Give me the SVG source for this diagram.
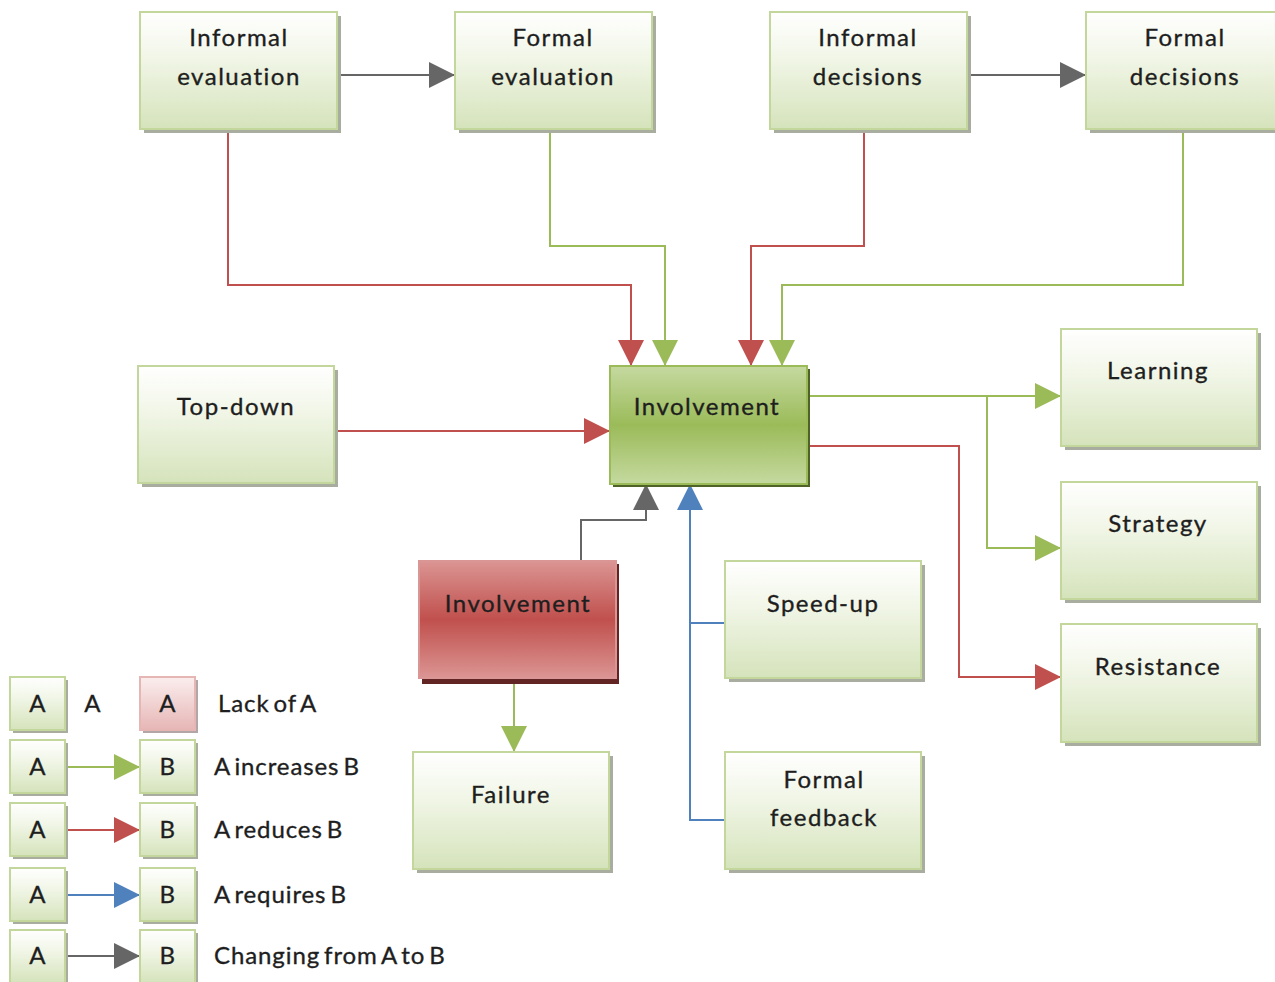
<svg xmlns="http://www.w3.org/2000/svg" width="1275" height="982" viewBox="0 0 1275 982">
  <defs>
    <linearGradient id="gNode" x1="0" y1="0" x2="0" y2="1">
      <stop offset="0" stop-color="#ffffff"/>
      <stop offset="0.35" stop-color="#f3f7ea"/>
      <stop offset="1" stop-color="#d5e3bb"/>
    </linearGradient>
    <linearGradient id="gGreen" x1="0" y1="0" x2="0" y2="1">
      <stop offset="0" stop-color="#c5d9a0"/>
      <stop offset="0.5" stop-color="#9bbb59"/>
      <stop offset="1" stop-color="#c5d9a0"/>
    </linearGradient>
    <linearGradient id="gRed" x1="0" y1="0" x2="0" y2="1">
      <stop offset="0" stop-color="#db9593"/>
      <stop offset="0.5" stop-color="#c0504d"/>
      <stop offset="1" stop-color="#db9593"/>
    </linearGradient>
    <linearGradient id="gPink" x1="0" y1="0" x2="0" y2="1">
      <stop offset="0" stop-color="#fbeeee"/>
      <stop offset="1" stop-color="#e6b6b5"/>
    </linearGradient>
    <marker id="mGreen" markerUnits="userSpaceOnUse" markerWidth="26" markerHeight="26" refX="24" refY="12" orient="auto" viewBox="0 0 24 24">
      <path d="M0,0 L24,12 L0,24 Z" fill="#9bbb59"/>
    </marker>
    <marker id="mRed" markerUnits="userSpaceOnUse" markerWidth="26" markerHeight="26" refX="24" refY="12" orient="auto" viewBox="0 0 24 24">
      <path d="M0,0 L24,12 L0,24 Z" fill="#c0504d"/>
    </marker>
    <marker id="mBlue" markerUnits="userSpaceOnUse" markerWidth="26" markerHeight="26" refX="24" refY="12" orient="auto" viewBox="0 0 24 24">
      <path d="M0,0 L24,12 L0,24 Z" fill="#4f81bd"/>
    </marker>
    <marker id="mGray" markerUnits="userSpaceOnUse" markerWidth="26" markerHeight="26" refX="24" refY="12" orient="auto" viewBox="0 0 24 24">
      <path d="M0,0 L24,12 L0,24 Z" fill="#666666"/>
    </marker>
  </defs>
  <style>
    .sh { fill: #a8ad9f; }
    .box { fill: url(#gNode); stroke: #c3d69b; stroke-width: 2; }
    .boxG { fill: url(#gGreen); stroke: #9bbb59; stroke-width: 2; }
    .shG { fill: #4f6228; }
    .boxR { fill: url(#gRed); stroke: #d99694; stroke-width: 2; }
    .shR { fill: #632523; }
    .boxP { fill: url(#gPink); stroke: #e6b6b5; stroke-width: 2; }
    .shP { fill: #b3a6a6; }
    text { font-family: Lato, "Open Sans", sans-serif; font-size: 24px; fill: #1e1e1e; stroke: #1e1e1e; stroke-width: 0.35; text-anchor: middle; letter-spacing: 1.5px; }
    .lg { text-anchor: start; letter-spacing: 0.9px; word-spacing: -3px; }
    .c { fill: none; stroke-width: 2; }
    .cg { stroke: #9bbb59; marker-end: url(#mGreen); }
    .cr { stroke: #c0504d; marker-end: url(#mRed); }
    .cb { stroke: #4f81bd; }
    .cy { stroke: #666666; marker-end: url(#mGray); }
  </style>

  <rect width="1275" height="982" fill="#ffffff"/>

  <!-- connectors -->
  <g id="connectors">
    <path class="c cy" d="M337,75 H455"/>
    <path class="c cy" d="M967,75 H1086"/>
    <path class="c cr" d="M228,129 V285 H631 V366"/>
    <path class="c cg" d="M550,129 V246 H665 V366"/>
    <path class="c cr" d="M864,129 V246 H751 V366"/>
    <path class="c cg" d="M1183,129 V285 H782 V366"/>
    <path class="c cr" d="M335,431 H610"/>
    <path class="c cg" d="M807,396 H1061"/>
    <path class="c cg" d="M987,396 V548 H1061"/>
    <path class="c cr" d="M807,446 H959 V677 H1061"/>
    <path class="c cy" d="M581,561 V520 H646 V484"/>
    <path class="c cg" d="M514,678 V752"/>
    <path class="c cb" d="M725,623 H690"/>
    <path class="c cb" d="M725,820 H690 V484" style="marker-end: url(#mBlue)"/>
    <!-- legend arrows -->
    <path class="c cg" d="M66,767 H140"/>
    <path class="c cr" d="M66,830 H140"/>
    <path class="c cb" d="M66,895 H140" style="marker-end: url(#mBlue)"/>
    <path class="c cy" d="M66,956 H140"/>
  </g>

  <!-- nodes -->
  <g id="informal-evaluation">
    <rect class="sh" x="144" y="16" width="197" height="117"/>
    <rect class="box" x="140" y="12" width="197" height="117"/>
    <text x="239" y="46">Informal</text>
    <text x="239" y="85">evaluation</text>
  </g>
  <g id="formal-evaluation">
    <rect class="sh" x="459" y="16" width="197" height="117"/>
    <rect class="box" x="455" y="12" width="197" height="117"/>
    <text x="553" y="46">Formal</text>
    <text x="553" y="85">evaluation</text>
  </g>
  <g id="informal-decisions">
    <rect class="sh" x="774" y="16" width="197" height="117"/>
    <rect class="box" x="770" y="12" width="197" height="117"/>
    <text x="868" y="46">Informal</text>
    <text x="868" y="85">decisions</text>
  </g>
  <g id="formal-decisions">
    <rect class="sh" x="1090" y="16" width="197" height="117"/>
    <rect class="box" x="1086" y="12" width="197" height="117"/>
    <text x="1185" y="46">Formal</text>
    <text x="1185" y="85">decisions</text>
  </g>
  <g id="top-down">
    <rect class="sh" x="142" y="370" width="196" height="117"/>
    <rect class="box" x="138" y="366" width="196" height="117"/>
    <text x="236" y="415">Top-down</text>
  </g>
  <g id="involvement">
    <rect class="shG" x="613" y="369" width="197" height="118"/>
    <rect class="boxG" x="610" y="366" width="197" height="118"/>
    <text x="707" y="415">Involvement</text>
  </g>
  <g id="learning">
    <rect class="sh" x="1065" y="333" width="196" height="117"/>
    <rect class="box" x="1061" y="329" width="196" height="117"/>
    <text x="1158" y="379">Learning</text>
  </g>
  <g id="strategy">
    <rect class="sh" x="1065" y="486" width="196" height="117"/>
    <rect class="box" x="1061" y="482" width="196" height="117"/>
    <text x="1158" y="532">Strategy</text>
  </g>
  <g id="resistance">
    <rect class="sh" x="1065" y="628" width="196" height="118"/>
    <rect class="box" x="1061" y="624" width="196" height="118"/>
    <text x="1158" y="675">Resistance</text>
  </g>
  <g id="lack-of-involvement">
    <rect class="shR" x="422" y="564" width="197" height="120"/>
    <rect class="boxR" x="419" y="561" width="197" height="117"/>
    <text x="518" y="612">Involvement</text>
  </g>
  <g id="speed-up">
    <rect class="sh" x="729" y="565" width="196" height="117"/>
    <rect class="box" x="725" y="561" width="196" height="117"/>
    <text x="823" y="612">Speed-up</text>
  </g>
  <g id="failure">
    <rect class="sh" x="417" y="756" width="196" height="117"/>
    <rect class="box" x="413" y="752" width="196" height="117"/>
    <text x="511" y="803">Failure</text>
  </g>
  <g id="formal-feedback">
    <rect class="sh" x="729" y="756" width="196" height="117"/>
    <rect class="box" x="725" y="752" width="196" height="117"/>
    <text x="824" y="788">Formal</text>
    <text x="824" y="826">feedback</text>
  </g>

  <!-- legend -->
  <g id="legend">
    <rect class="sh" x="13" y="680" width="55" height="53"/>
    <rect class="box" x="10" y="677" width="55" height="53"/>
    <text x="38" y="712">A</text>
    <text x="93" y="712">A</text>
    <rect class="shP" x="143" y="680" width="55" height="53"/>
    <rect class="boxP" x="140" y="677" width="55" height="53"/>
    <text x="168" y="712">A</text>
    <text class="lg" x="218" y="712">Lack of A</text>

    <rect class="sh" x="13" y="743" width="55" height="53"/>
    <rect class="box" x="10" y="740" width="55" height="53"/>
    <text x="38" y="775">A</text>
    <rect class="sh" x="143" y="743" width="55" height="53"/>
    <rect class="box" x="140" y="740" width="55" height="53"/>
    <text x="168" y="775">B</text>
    <text class="lg" x="214" y="775">A increases B</text>

    <rect class="sh" x="13" y="806" width="55" height="53"/>
    <rect class="box" x="10" y="803" width="55" height="53"/>
    <text x="38" y="838">A</text>
    <rect class="sh" x="143" y="806" width="55" height="53"/>
    <rect class="box" x="140" y="803" width="55" height="53"/>
    <text x="168" y="838">B</text>
    <text class="lg" x="214" y="838">A reduces B</text>

    <rect class="sh" x="13" y="871" width="55" height="53"/>
    <rect class="box" x="10" y="868" width="55" height="53"/>
    <text x="38" y="903">A</text>
    <rect class="sh" x="143" y="871" width="55" height="53"/>
    <rect class="box" x="140" y="868" width="55" height="53"/>
    <text x="168" y="903">B</text>
    <text class="lg" x="214" y="903">A requires B</text>

    <rect class="sh" x="13" y="933" width="55" height="53"/>
    <rect class="box" x="10" y="930" width="55" height="53"/>
    <text x="38" y="964">A</text>
    <rect class="sh" x="143" y="933" width="55" height="53"/>
    <rect class="box" x="140" y="930" width="55" height="53"/>
    <text x="168" y="964">B</text>
    <text class="lg" x="214" y="964">Changing from A to B</text>
  </g>
</svg>
